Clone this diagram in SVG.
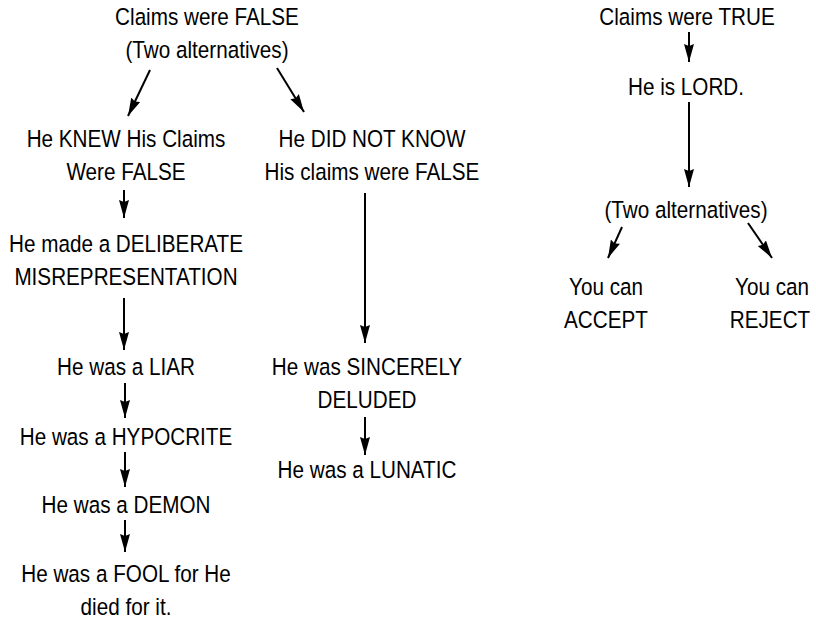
<svg xmlns="http://www.w3.org/2000/svg" width="816" height="621" viewBox="0 0 816 621">
<defs>
<marker id="ah" viewBox="0 0 18 10" refX="18" refY="5" markerWidth="18" markerHeight="10" markerUnits="userSpaceOnUse" orient="auto">
<path d="M0,0 L18,5 L0,10 L2,5 Z" fill="#000"/>
</marker>
<style>
text{font-family:"Liberation Sans",Arial,sans-serif;font-size:23.5px;fill:#000;text-anchor:middle}
.c line{stroke:#000;stroke-width:2;marker-end:url(#ah)}
</style>
</defs>
<rect width="816" height="621" fill="#fff"/>
<g id="n-false"><g transform="translate(207,25) scale(0.88,1)"><text>Claims were FALSE</text></g><g transform="translate(207,58) scale(0.88,1)"><text>(Two alternatives)</text></g></g>
<g id="n-knew"><g transform="translate(126,147) scale(0.88,1)"><text>He KNEW His Claims</text></g><g transform="translate(126,180) scale(0.88,1)"><text>Were FALSE</text></g></g>
<g id="n-notknow"><g transform="translate(372,147) scale(0.88,1)"><text>He DID NOT KNOW</text></g><g transform="translate(372,180) scale(0.88,1)"><text>His claims were FALSE</text></g></g>
<g id="n-deliberate"><g transform="translate(126,252) scale(0.88,1)"><text>He made a DELIBERATE</text></g><g transform="translate(126,285) scale(0.88,1)"><text>MISREPRESENTATION</text></g></g>
<g id="n-liar"><g transform="translate(126,375) scale(0.88,1)"><text>He was a LIAR</text></g></g>
<g id="n-hypocrite"><g transform="translate(126,445) scale(0.88,1)"><text>He was a HYPOCRITE</text></g></g>
<g id="n-demon"><g transform="translate(126,513) scale(0.88,1)"><text>He was a DEMON</text></g></g>
<g id="n-fool"><g transform="translate(126,582) scale(0.88,1)"><text>He was a FOOL for He</text></g><g transform="translate(126,615) scale(0.88,1)"><text>died for it.</text></g></g>
<g id="n-sincere"><g transform="translate(367,375) scale(0.88,1)"><text>He was SINCERELY</text></g><g transform="translate(367,408) scale(0.88,1)"><text>DELUDED</text></g></g>
<g id="n-lunatic"><g transform="translate(367,478) scale(0.88,1)"><text>He was a LUNATIC</text></g></g>
<g id="n-true"><g transform="translate(687,25) scale(0.88,1)"><text>Claims were TRUE</text></g></g>
<g id="n-lord"><g transform="translate(686,95) scale(0.88,1)"><text>He is LORD.</text></g></g>
<g id="n-alt2"><g transform="translate(686,218) scale(0.88,1)"><text>(Two alternatives)</text></g></g>
<g id="n-accept"><g transform="translate(606,295) scale(0.88,1)"><text>You can</text></g><g transform="translate(606,328) scale(0.88,1)"><text>ACCEPT</text></g></g>
<g id="n-reject"><g transform="translate(772,295) scale(0.88,1)"><text>You can</text></g><g transform="translate(770,328) scale(0.88,1)"><text>REJECT</text></g></g>
<g id="connectors" class="c">
<line x1="150" y1="70" x2="128" y2="116"/>
<line x1="277" y1="68" x2="304" y2="112"/>
<line x1="124" y1="190" x2="124" y2="218"/>
<line x1="124" y1="298" x2="124" y2="350"/>
<line x1="125" y1="383" x2="125" y2="418"/>
<line x1="125" y1="452" x2="125" y2="487"/>
<line x1="125" y1="520" x2="125" y2="552"/>
<line x1="365" y1="193" x2="365" y2="343"/>
<line x1="365" y1="417" x2="365" y2="455"/>
<line x1="689" y1="32" x2="689" y2="62"/>
<line x1="689" y1="102" x2="689" y2="187"/>
<line x1="622" y1="227" x2="608" y2="258"/>
<line x1="748" y1="223" x2="772" y2="258"/>
</g>
</svg>
